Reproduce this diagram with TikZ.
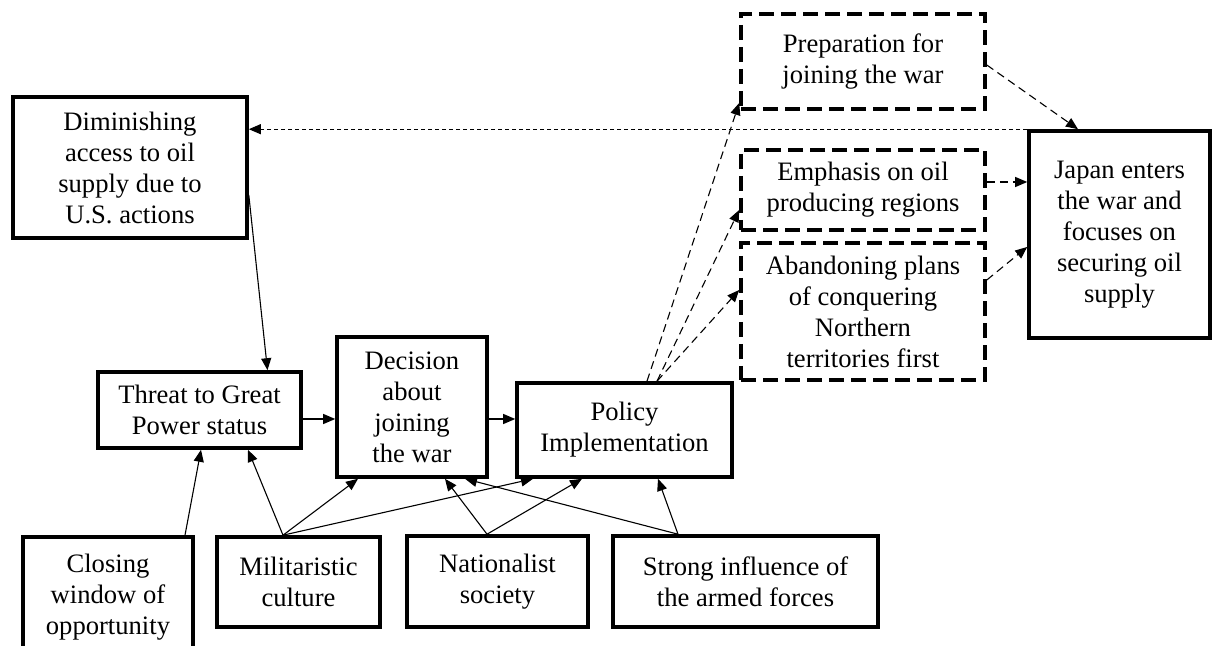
\documentclass[tikz,border=0pt]{standalone}
\usepackage{fontspec}
\setmainfont{Liberation Serif}
\usetikzlibrary{arrows.meta}
\begin{document}
\begin{tikzpicture}[x=0.5pt,y=-0.5pt,
		box/.style={draw,line width=1.8pt,align=center,inner sep=2pt,font=\fontsize{13.3}{15.5}\selectfont},
		dbox/.style={box,dash pattern=on 7.5pt off 3.5pt},
		arr/.style={-{Triangle[length=6pt,width=5pt]},line width=0.55pt},
		darr/.style={arr,dash pattern=on 4pt off 2.5pt},
		dotarr/.style={arr,dash pattern=on 2pt off 1.5pt}]
		\useasboundingbox (0,0) rectangle (1212,646);
		\node[box,minimum width=117pt,minimum height=70.5pt] (dimin) at (130,167.5) {Diminishing\\access to oil\\supply due to\\U.S. actions};
		\node[box,minimum width=101.5pt,minimum height=38pt] (threat) at (199.5,410) {Threat to Great\\Power status};
		\node[box,minimum width=75pt,minimum height=70pt] (decision) at (412,407) {Decision\\about\\joining\\the war};
		\node[box,minimum width=107.5pt,minimum height=47pt] (policy) at (624.5,430) {Policy\\Implementation};
		\node[dbox,minimum width=122pt,minimum height=47.5pt] (prep) at (863,61.5) {Preparation for\\joining the war};
		\node[dbox,minimum width=122pt,minimum height=40pt] (emph) at (863,190) {Emphasis on oil\\producing regions};
		\node[dbox,minimum width=122pt,minimum height=68.5pt] (aband) at (863,311.5) {Abandoning plans\\of conquering\\Northern\\territories first};
		\node[box,minimum width=90.5pt,minimum height=103.5pt] (japan) at (1119.5,234.5) {Japan enters\\the war and\\focuses on\\securing oil\\supply};
		\node[box,minimum width=85pt,minimum height=60pt] (closing) at (108,597) {Closing\\window of\\opportunity};
		\node[box,minimum width=81.5pt,minimum height=45pt] (milit) at (298.5,582) {Militaristic\\culture};
		\node[box,minimum width=90.5pt,minimum height=45.5pt] (nation) at (497.5,581.5) {Nationalist\\society};
		\node[box,minimum width=132.5pt,minimum height=45.5pt] (strong) at (745.5,581.5) {Strong influence of\\the armed forces};
		\draw[arr] ([yshift=-13.75pt]dimin.east) -- ([xshift=34pt]threat.north);
		\draw[arr] ([yshift=-4.5pt]threat.east) -- ([yshift=-6pt]decision.west);
		\draw[arr] ([yshift=-6pt]decision.east) -- ([yshift=5.5pt]policy.west);
		\draw[darr] ([xshift=11.25pt]policy.north) -- ([yshift=-20.75pt]prep.west);
		\draw[darr] ([xshift=16.25pt]policy.north) -- ([yshift=-10pt]emph.west);
		\draw[darr] ([xshift=16.25pt]policy.north) -- ([yshift=10.75pt]aband.west);
		\draw[darr] ([yshift=-1.75pt]prep.east) -- ([xshift=-20.75pt]japan.north);
		\draw[darr] ([yshift=4pt]emph.east) -- ([yshift=4pt]emph.east -| japan.west);
		\draw[darr] ([yshift=15.75pt]aband.east) -- ([yshift=-6.25pt]japan.west);
		\draw[dotarr] (japan.north west) -- (japan.north west -| dimin.east);
		\foreach \src/\sx/\dst/\dx in {closing/38.5/threat/0.75, milit/-7.75/threat/24.25,
			milit/-7.75/decision/-27, milit/-7.75/policy/-45.75, nation/-5.25/decision/16.5,
			nation/-5.25/policy/-21.25, strong/-33.75/decision/26.5, strong/-33.75/policy/16.75}
		\draw[arr] ([xshift=\sx pt]\src.north) -- ([xshift=\dx pt]\dst.south);
\end{tikzpicture}
\end{document}
